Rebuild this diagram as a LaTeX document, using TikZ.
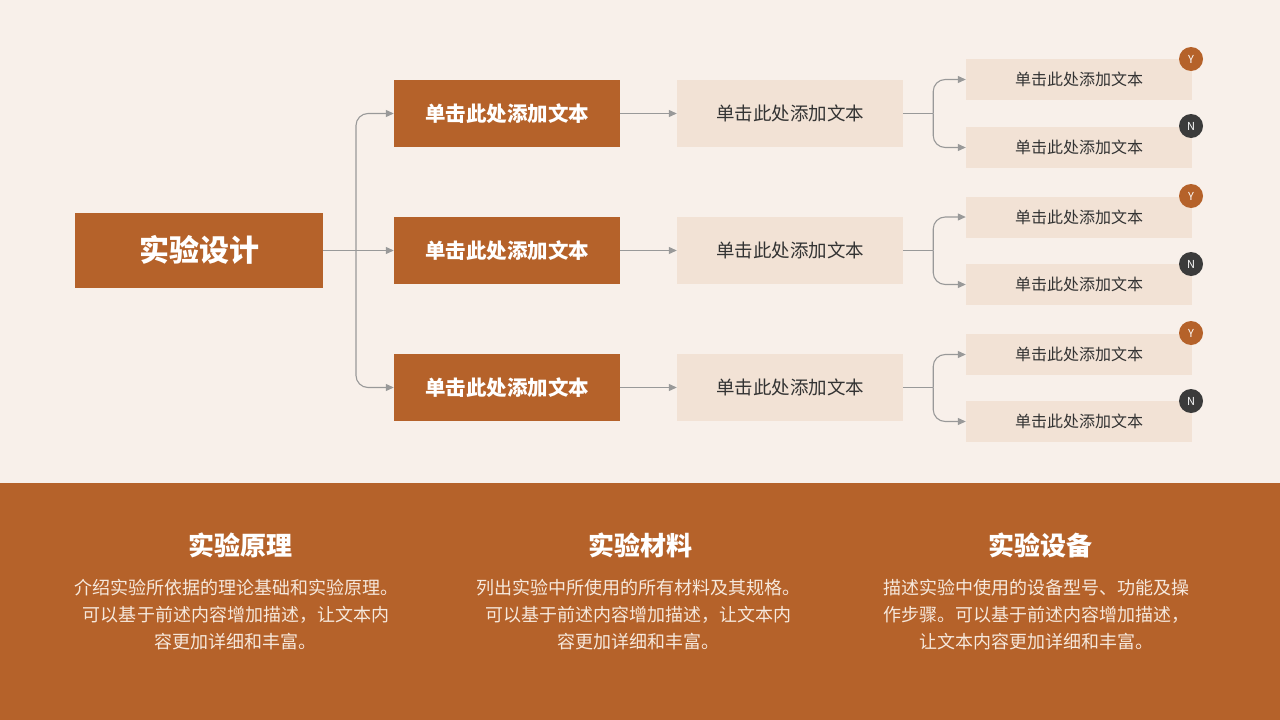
\documentclass[tikz,border=0pt]{standalone}
\usepackage{fontspec}
\setmainfont{Noto Sans CJK SC}
\usetikzlibrary{arrows.meta}
\definecolor{bgc}{HTML}{F8F0EA}
\definecolor{orng}{HTML}{B5622A}
\definecolor{lite}{HTML}{F2E2D5}
\definecolor{txtd}{HTML}{333333}
\definecolor{linec}{HTML}{999999}
\definecolor{darkc}{HTML}{3B3B3B}
\definecolor{bodyc}{HTML}{F6E8DC}
\begin{document}
\begin{tikzpicture}[x=1pt,y=-1pt,
  mainbox/.style={fill=orng,text=white,minimum width=248pt,minimum height=75pt,inner sep=0pt,font=\fontsize{30}{36}\selectfont\bfseries},
  lvtwo/.style={fill=orng,text=white,minimum width=226pt,minimum height=67pt,inner sep=0pt,font=\fontsize{20.5}{24}\selectfont\bfseries},
  lvthree/.style={fill=lite,text=txtd,minimum width=226pt,minimum height=67pt,inner sep=0pt,font=\fontsize{18.5}{22}\selectfont},
  lvfour/.style={fill=lite,text=txtd,minimum width=226pt,minimum height=41pt,inner sep=0pt,font=\fontsize{16}{19}\selectfont},
  conn/.style={draw=linec,line width=1.1pt,-{Triangle[length=8pt,width=7pt]},rounded corners=12pt},
  ybadge/.style={circle,fill=orng,text=white,minimum size=24pt,inner sep=0pt,font=\fontsize{11}{12}\selectfont},
  nbadge/.style={circle,fill=darkc,text=white,minimum size=24pt,inner sep=0pt,font=\fontsize{11}{12}\selectfont},
  ttl/.style={text=white,font=\fontsize{26}{30}\selectfont\bfseries},
  body/.style={text=bodyc,align=center,font=\fontsize{18}{27}\selectfont}]
\useasboundingbox (0,0) rectangle (1280,720);
\fill[bgc] (0,0) rectangle (1280,483);
\fill[orng] (0,483) rectangle (1280,720);

\node[mainbox] (main) at (199,250) {实验设计};

\foreach \n/\y in {a/113.5,b/250.5,c/387.5}{
  \node[lvtwo] (t\n) at (507,\y) {单击此处添加文本};
  \node[lvthree] (h\n) at (790,\y) {单击此处添加文本};
}
\node[lvfour] (fa1) at (1079,79.5) {单击此处添加文本};
\node[lvfour] (fa2) at (1079,147.5) {单击此处添加文本};
\node[lvfour] (fb1) at (1079,217) {单击此处添加文本};
\node[lvfour] (fb2) at (1079,284.5) {单击此处添加文本};
\node[lvfour] (fc1) at (1079,354.5) {单击此处添加文本};
\node[lvfour] (fc2) at (1079,421.5) {单击此处添加文本};

\node[ybadge] (ya) at (1191,59) {Y};
\node[nbadge] (na) at (1191,126) {N};
\node[ybadge] (yb) at (1191,196) {Y};
\node[nbadge] (nb) at (1191,264) {N};
\node[ybadge] (yc) at (1191,333) {Y};
\node[nbadge] (nc) at (1191,401) {N};

\coordinate (j0) at (356,250.5);
\draw[conn] (main.east |- tb.west) -- (tb.west);
\draw[conn] (j0) |- (ta.west);
\draw[conn] (j0) |- (tc.west);

\foreach \n in {a,b,c}{
  \draw[conn] (t\n.east) -- (h\n.west);
  \draw[draw=linec,line width=1.1pt] (h\n.east) -- ++(30,0) coordinate (k\n);
  \draw[conn] (k\n) |- (f\n1.west);
  \draw[conn] (k\n) |- (f\n2.west);
}

\node[ttl] (s1) at (240,545) {实验原理};
\node[ttl] (s2) at (640,545) {实验材料};
\node[ttl] (s3) at (1040,545) {实验设备};
\node[body,anchor=north] (b1) at (236,576) {介绍实验所依据的理论基础和实验原理。\\可以基于前述内容增加描述，让文本内\\容更加详细和丰富。};
\node[body,anchor=north] (b2) at (638,576) {列出实验中所使用的所有材料及其规格。\\可以基于前述内容增加描述，让文本内\\容更加详细和丰富。};
\node[body,anchor=north] (b3) at (1036,576) {描述实验中使用的设备型号、功能及操\\作步骤。可以基于前述内容增加描述，\\让文本内容更加详细和丰富。};
\end{tikzpicture}
\end{document}
